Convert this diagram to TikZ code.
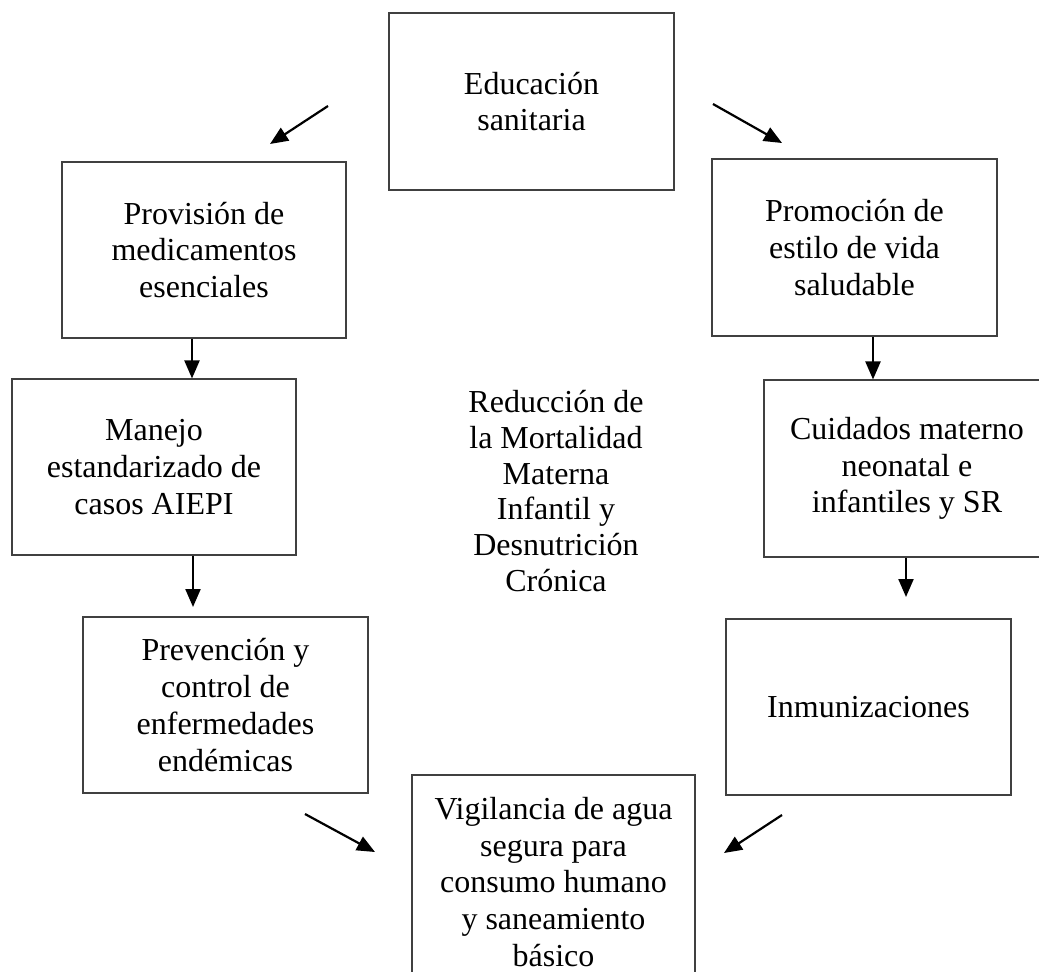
\documentclass[tikz,border=0pt]{standalone}
\usepackage{fontspec}
\setmainfont{Liberation Serif}
\usetikzlibrary{arrows.meta}
\begin{document}
\begin{tikzpicture}[x=1pt,y=-1pt,
  box/.style={draw=black!75, line width=1.1pt, rectangle, align=center, inner sep=0pt,
    font=\fontsize{32}{36.7}\selectfont},
  arr/.style={line width=2.2pt, -{Triangle[length=18pt,width=15pt]}}]
\useasboundingbox (0,0) rectangle (1039,972);
\clip (0,0) rectangle (1039,972);
\fill[white] (0,0) rectangle (1039,972);
% boxes
\node[box, minimum width=285pt, minimum height=177pt] (edu) at (531.5,101.5) {Educación\\sanitaria};
\node[box, minimum width=284pt, minimum height=176pt] (prov) at (204,250) {Provisión de\\medicamentos\\esenciales};
\node[box, minimum width=285pt, minimum height=177pt] (prom) at (854.5,247.5) {Promoción de\\estilo de vida\\saludable};
\node[box, minimum width=284pt, minimum height=176pt] (manejo) at (154,467) {Manejo\\estandarizado de\\casos AIEPI};
\node[box, minimum width=286pt, minimum height=177pt] (cuid) at (907,468.5) {Cuidados materno\\neonatal e\\infantiles y SR};
\node[box, minimum width=285pt, minimum height=176pt] (prev) at (225.5,705) {Prevención y\\control de\\enfermedades\\endémicas};
\node[box, minimum width=285pt, minimum height=176pt] (inmu) at (868.5,707) {Inmunizaciones};
\node[box, minimum width=283pt, minimum height=214pt] (vig) at (553.5,882) {Vigilancia de agua\\segura para\\consumo humano\\y saneamiento\\básico};
% centre text
\node[align=center, inner sep=0pt, font=\fontsize{32}{35.8}\selectfont] (goal) at (556,491)
  {Reducción de\\la Mortalidad\\Materna\\Infantil y\\Desnutrición\\Crónica};
% arrow end points
\coordinate (a1s) at (328,106); \coordinate (a1e) at (270,144);
\coordinate (a2s) at (713,104); \coordinate (a2e) at (782,143);
\coordinate (a3) at (192,0);
\coordinate (a4e) at (193,607);
\coordinate (a5) at (873,0);
\coordinate (a6e) at (906,597);
\coordinate (a7s) at (305,814); \coordinate (a7e) at (375,852);
\coordinate (a8s) at (782,815); \coordinate (a8e) at (724,853);
% arrows
\draw[arr] (a1s) -- (a1e);
\draw[arr] (a2s) -- (a2e);
\draw[arr] (prov.south -| a3) -- (manejo.north -| a3);
\draw[arr] (manejo.south -| a4e) -- (a4e);
\draw[arr] (prom.south -| a5) -- (cuid.north -| a5);
\draw[arr] (cuid.south -| a6e) -- (a6e);
\draw[arr] (a7s) -- (a7e);
\draw[arr] (a8s) -- (a8e);
\end{tikzpicture}
\end{document}
